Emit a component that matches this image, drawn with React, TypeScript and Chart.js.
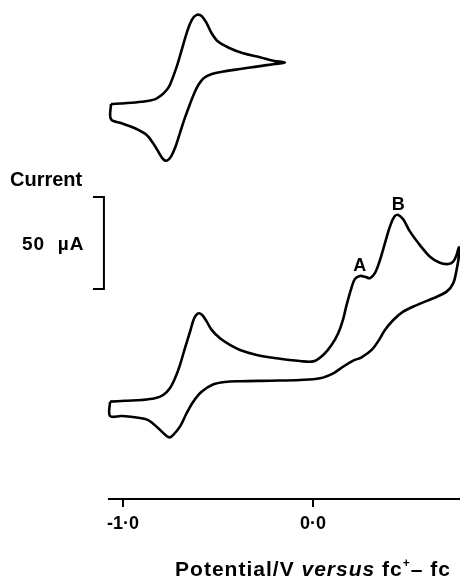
import { useEffect, useRef } from "react";
import { Chart, registerables } from "chart.js";

Chart.register(...registerables);

// Small CV (upper trace): potential / V vs fc+-fc, current / µA (offset for display)
const topPotential = [
  -1.063, -0.989, -0.902, -0.832, -0.796, -0.77, -0.753, -0.717, -0.691, -0.662, -0.638, -0.612, -0.586,
  -0.559, -0.533, -0.498, -0.437, -0.367, -0.279, -0.209, -0.147,
  -0.209, -0.296, -0.384, -0.472, -0.532, -0.574, -0.603, -0.624, -0.647, -0.674, -0.7, -0.724, -0.747,
  -0.768, -0.789, -0.814, -0.841, -0.875, -0.937, -1.007, -1.063, -1.063,
];
const topCurrent = [
  214.7, 215.1, 215.9, 217.2, 219.6, 222.3, 225.0, 235.0, 244.0, 254.0, 260.3, 263.1, 262.5,
  258.5, 253.1, 248.5, 245.0, 242.2, 240.1, 238.2, 237.2,
  236.3, 235.0, 233.7, 232.3, 231.0, 228.8, 225.0, 220.7, 214.7, 207.1, 198.9, 191.3, 186.1,
  183.9, 184.8, 188.8, 193.3, 197.8, 201.5, 204.2, 206.4, 214.7,
];

// Full CV (lower trace)
const lowerPotential = [
  -1.068, -0.989, -0.902, -0.832, -0.788, -0.753, -0.726, -0.7, -0.674, -0.647, -0.625, -0.604, -0.583,
  -0.559, -0.533, -0.489, -0.437, -0.384, -0.296, -0.191, -0.068, 0.002, 0.054, 0.098, 0.133, 0.158,
  0.177, 0.204, 0.221, 0.247, 0.274, 0.3, 0.326, 0.353, 0.379, 0.405, 0.428, 0.449, 0.475, 0.511,
  0.563, 0.616, 0.668, 0.712, 0.738, 0.756, 0.768,
  0.77, 0.756, 0.738, 0.704, 0.633, 0.546, 0.475, 0.423, 0.379, 0.353, 0.309, 0.256, 0.212, 0.159,
  0.107, 0.037, -0.068, -0.226, -0.384, -0.463, -0.526, -0.586, -0.63, -0.665, -0.7, -0.735, -0.753,
  -0.77, -0.814, -0.867, -0.937, -1.007, -1.068, -1.068,
];
const lowerCurrent = [
  52.9, 53.4, 53.8, 54.7, 56.5, 60.2, 65.6, 72.8, 81.9, 90.9, 98.2, 100.9, 100.0,
  96.4, 91.9, 87.3, 83.7, 81.0, 78.3, 76.5, 75.0, 74.8, 78.3, 83.7, 90.1, 97.3,
  105.4, 115.2, 119.6, 121.2, 120.8, 120.0, 122.7, 129.9, 139.0, 148.0, 153.4, 154.4, 152.0, 145.3,
  138.0, 131.7, 128.4, 127.7, 129.0, 132.6, 136.8,
  133.5, 124.5, 117.2, 112.7, 109.1, 105.4, 101.8, 97.3, 91.9, 87.3, 81.0, 77.0, 75.2, 71.9,
  68.3, 65.6, 64.7, 64.3, 64.0, 63.6, 62.2, 58.3, 52.9, 46.6, 39.3, 34.8, 33.5,
  34.2, 38.4, 42.9, 44.4, 45.1, 45.1, 52.9,
];

const xTicks = [-1.0, 0.0];
const xTickLabels = ["-1·0", "0·0"];
const axisStart = -1.079;
const scaleBar = 50; // µA
const scaleBarTop = 164.1;
const scaleBarPotential = -1.1;
const peakLabels = ["A", "B"];
const peakPotentials = [0.247, 0.449];
const peakCurrents = [121.2, 154.4];

const FONT = "'Liberation Sans', Arial, sans-serif";

const zip = (xs: number[], ys: number[]) => xs.map((x, i) => ({ x, y: ys[i] }));

const overlay = {
  id: "overlay",
  afterDraw(chart: any) {
    const { ctx, chartArea } = chart;
    const x = chart.scales.x;
    const y = chart.scales.y;
    ctx.save();
    ctx.strokeStyle = "#000";
    ctx.fillStyle = "#000";
    ctx.lineWidth = 2;
    // potential axis line
    ctx.beginPath();
    ctx.moveTo(x.getPixelForValue(axisStart), chartArea.bottom);
    ctx.lineTo(chartArea.right, chartArea.bottom);
    ctx.stroke();
    // 50 µA scale bar
    const bx = x.getPixelForValue(scaleBarPotential);
    const yt = y.getPixelForValue(scaleBarTop);
    const yb = y.getPixelForValue(scaleBarTop - scaleBar);
    ctx.beginPath();
    ctx.moveTo(bx - 11, yt);
    ctx.lineTo(bx, yt);
    ctx.lineTo(bx, yb);
    ctx.lineTo(bx - 11, yb);
    ctx.stroke();
    // texts
    ctx.textBaseline = "middle";
    ctx.textAlign = "left";
    ctx.font = `bold 20px ${FONT}`;
    ctx.fillText("Current", 10, 180);
    ctx.font = `bold 19px ${FONT}`;
    (ctx as any).letterSpacing = "1px";
    ctx.fillText(`${scaleBar}  µA`, 22, 245);
    (ctx as any).letterSpacing = "0px";
    ctx.textAlign = "center";
    ctx.textBaseline = "alphabetic";
    ctx.font = `bold 18px ${FONT}`;
    peakLabels.forEach((lab, i) => {
      ctx.fillText(lab, x.getPixelForValue(peakPotentials[i]), y.getPixelForValue(peakCurrents[i]) - 5);
    });
    // axis title with italic "versus" and superscript +
    const parts: [string, string, number][] = [
      ["Potential/V ", `bold 21px ${FONT}`, 0],
      ["versus", `italic bold 21px ${FONT}`, 0],
      [" fc", `bold 21px ${FONT}`, 0],
      ["+", `bold 12px ${FONT}`, -9],
      ["– fc", `bold 21px ${FONT}`, 0],
    ];
    ctx.textAlign = "left";
    (ctx as any).letterSpacing = "1px";
    let total = 0;
    parts.forEach(([t, f]) => {
      ctx.font = f;
      total += ctx.measureText(t).width;
    });
    let cx = 313 - total / 2;
    const base = 576;
    parts.forEach(([t, f, dy]) => {
      ctx.font = f;
      ctx.fillText(t, cx, base + dy);
      cx += ctx.measureText(t).width;
    });
    (ctx as any).letterSpacing = "0px";
    ctx.restore();
  },
};

export default function App() {
  const ref = useRef<HTMLCanvasElement | null>(null);
  useEffect(() => {
    if (!ref.current) return;
    const line = {
      borderColor: "#000",
      borderWidth: 2.6,
      pointRadius: 0,
      tension: 0.35,
      fill: false,
    };
    const chart = new Chart(ref.current, {
      type: "line",
      data: {
        datasets: [
          { ...line, data: zip(topPotential, topCurrent) },
          { ...line, data: zip(lowerPotential, lowerCurrent) },
        ],
      },
      options: {
        animation: false,
        responsive: false,
        layout: { padding: 0 },
        plugins: { legend: { display: false }, tooltip: { enabled: false } },
        scales: {
          x: {
            type: "linear",
            min: -1.647,
            max: 0.774,
            afterFit: (s: any) => {
              s.height = 84;
            },
            afterBuildTicks: (s: any) => {
              s.ticks = xTicks.map((v) => ({ value: v }));
            },
            ticks: {
              autoSkip: false,
              maxRotation: 0,
              padding: 6,
              color: "#000",
              font: { family: FONT, size: 18, weight: "bold" },
              callback: (v: any) => xTickLabels[xTicks.indexOf(Number(v))],
            },
            grid: {
              drawOnChartArea: false,
              drawTicks: true,
              tickLength: 8,
              color: "#000",
              lineWidth: 2,
            },
            border: { display: false },
          },
          y: { display: false, min: 0, max: 271.2 },
        },
      },
      plugins: [overlay],
    });
    return () => chart.destroy();
  }, []);
  return (
    <canvas
      ref={ref}
      width={460}
      height={583}
      style={{ position: "fixed", left: 0, top: 0, width: 460, height: 583 }}
    />
  );
}
